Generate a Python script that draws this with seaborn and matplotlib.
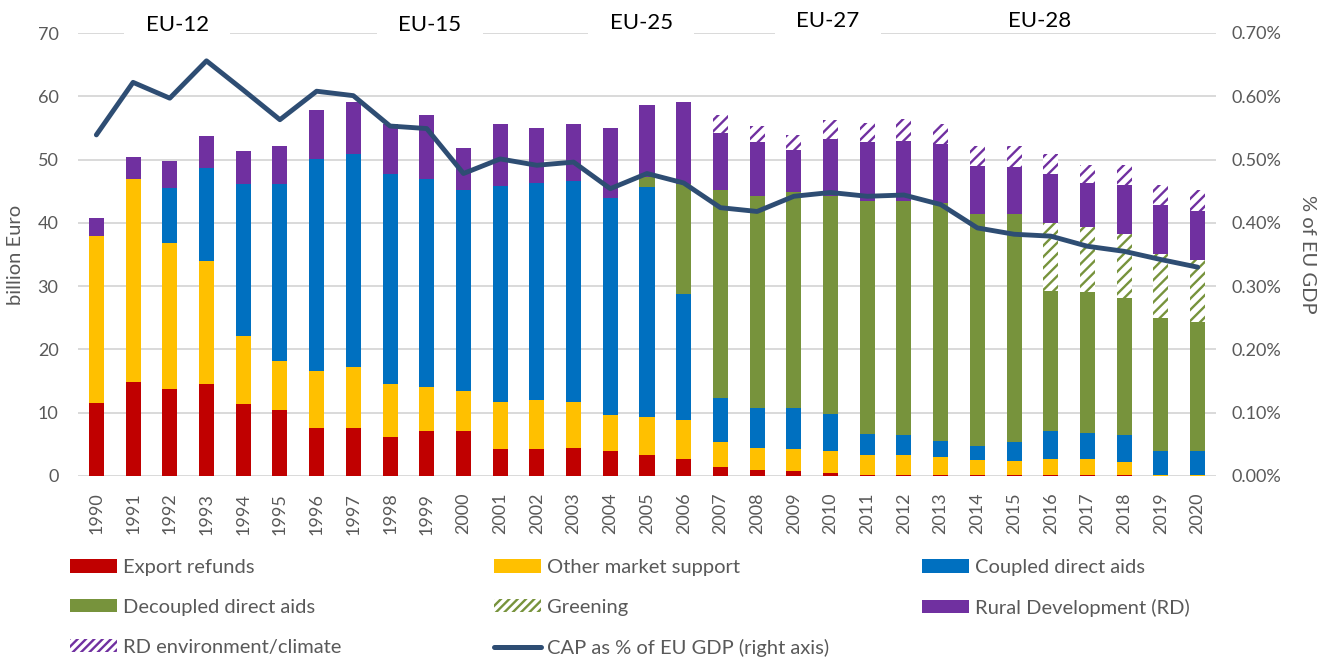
import numpy as np
import pandas as pd
import matplotlib
matplotlib.use("Agg")
import matplotlib.pyplot as plt
import seaborn as sns
from matplotlib.patches import Patch
from matplotlib.lines import Line2D
from matplotlib.ticker import FuncFormatter, MultipleLocator

# ---------------- data (billion Euro) ----------------
years = [str(y) for y in range(1990, 2021)]
export_refunds = [11.6, 14.8, 13.7, 14.5, 11.4, 10.5, 7.6, 7.6, 6.2, 7.1, 7.1, 4.2, 4.2, 4.4, 3.9,
                  3.3, 2.7, 1.5, 1.0, 0.8, 0.5, 0.1, 0.1, 0.1, 0.1, 0.1, 0.1, 0.1, 0.1, 0.0, 0.0]
other_market = [26.3, 32.1, 23.1, 19.4, 10.7, 7.6, 9.0, 9.6, 8.4, 6.9, 6.3, 7.5, 7.8, 7.3, 5.8,
                6.1, 6.1, 3.8, 3.5, 3.4, 3.4, 3.2, 3.2, 2.9, 2.4, 2.3, 2.6, 2.6, 2.1, 0.1, 0.1]
coupled = [0.0, 0.0, 8.7, 14.8, 24.0, 28.0, 33.5, 33.7, 33.1, 32.9, 31.8, 34.1, 34.3, 34.9, 34.3,
           36.3, 19.9, 7.1, 6.2, 6.5, 5.9, 3.4, 3.1, 2.6, 2.2, 2.9, 4.4, 4.1, 4.3, 3.8, 3.8]
decoupled = [0.0, 0.0, 0.0, 0.0, 0.0, 0.0, 0.0, 0.0, 0.0, 0.0, 0.0, 0.0, 0.0, 0.0, 0.0,
             1.5, 17.5, 32.8, 33.6, 34.2, 34.5, 36.8, 37.1, 37.6, 36.7, 36.1, 22.2, 22.2, 21.6, 21.0, 20.5]
greening = [0.0] * 26 + [10.6, 10.4, 10.1, 10.2, 9.8]
rural_dev = [2.9, 3.5, 4.3, 5.1, 5.2, 6.0, 7.8, 8.2, 7.9, 10.2, 6.6, 9.8, 8.7, 9.0, 11.0,
             11.5, 12.9, 9.0, 8.4, 6.6, 8.9, 9.2, 9.4, 9.2, 7.6, 7.5, 7.8, 6.9, 7.8, 7.7, 7.7]
rd_env = [0.0] * 17 + [2.9, 2.6, 2.4, 3.0, 3.1, 3.5, 3.2, 3.1, 3.2, 3.2, 2.9, 3.2, 3.2, 3.3]
# CAP as % of EU GDP (right axis)
cap_gdp_pct = [0.539, 0.622, 0.597, 0.656, 0.610, 0.563, 0.608, 0.601, 0.553, 0.549, 0.478,
               0.501, 0.491, 0.496, 0.454, 0.478, 0.463, 0.424, 0.418, 0.442, 0.448, 0.442,
               0.444, 0.429, 0.392, 0.382, 0.379, 0.363, 0.355, 0.342, 0.330]
period_labels = ["EU-12", "EU-15", "EU-25", "EU-27", "EU-28"]
period_pos = [2.2, 9.09, 14.84, 19.93, 25.7]

series_names = ["Export refunds", "Other market support", "Coupled direct aids",
                "Decoupled direct aids", "Greening", "Rural Development (RD)",
                "RD environment/climate"]
line_name = "CAP as % of EU GDP (right axis)"

# ---------------- style ----------------
sns.set_style("white")
plt.rcParams['font.family'] = ['Lato', 'DejaVu Sans']
plt.rcParams['hatch.linewidth'] = 1.7

RED, YEL, BLU, GRN, PUR = "#C00000", "#FFC000", "#0070C0", "#77933C", "#7030A0"
LINE_C = "#2E4D73"
TXT = "#595959"
GRID = "#D9D9D9"

W, H = 1323, 659
fig = plt.figure(figsize=(W / 100, H / 100), dpi=100)
left, right, top, bottom = 78, 1216, 33, 476
ax = fig.add_axes([left / W, 1 - bottom / H, (right - left) / W, (bottom - top) / H])

layers = [
    (export_refunds, RED, None),
    (other_market, YEL, None),
    (coupled, BLU, None),
    (decoupled, GRN, None),
    (greening, GRN, "///"),
    (rural_dev, PUR, None),
    (rd_env, PUR, "///"),
]
cum = np.zeros(len(years))
tops = []
for vals, c, h in layers:
    cum = cum + np.array(vals, dtype=float)
    tops.append(cum.copy())

for (vals, c, h), tp in reversed(list(zip(layers, tops))):
    d = pd.DataFrame({"year": years, "top": tp})
    if h:
        sns.barplot(data=d, x="year", y="top", color="white", saturation=1, width=0.41,
                    edgecolor=c, linewidth=0, hatch=h, errorbar=None, ax=ax)
    else:
        sns.barplot(data=d, x="year", y="top", color=c, saturation=1, width=0.41,
                    linewidth=0, errorbar=None, ax=ax)

ax.set_ylim(0, 70)
ax.yaxis.set_major_locator(MultipleLocator(10))
ax.set_axisbelow(True)
ax.grid(axis="y", color=GRID, linewidth=1.4)
ax.grid(axis="x", visible=False)
for s in ax.spines.values():
    s.set_visible(False)
ax.tick_params(axis="both", length=0, labelsize=13, labelcolor=TXT)
ax.tick_params(axis="y", pad=14)
ax.tick_params(axis="x", pad=12, labelrotation=90)
ax.set_xlabel("")
ax.set_ylabel("billion Euro", fontsize=14.5, color=TXT)
ax.yaxis.set_label_coords((24 - left) / (right - left), 0.5)

# period labels on top gridline
for lab, pos in zip(period_labels, period_pos):
    ypx = 25 if lab in ("EU-12", "EU-15") else (23 if lab == "EU-25" else 21)
    yv = 70 + (top - ypx) / ((bottom - top) / 70)
    if lab == "EU-28":
        ax.text(pos, yv, lab, ha="center", va="center", fontsize=16, color="black", clip_on=False)
    else:
        ax.text(pos, yv, lab, ha="center", va="center", fontsize=16, color="black", clip_on=False,
                bbox=dict(boxstyle="square,pad=0.95", facecolor="white", edgecolor="none"))

# line on right axis
ax2 = ax.twinx()
sns.lineplot(x=np.arange(len(years)), y=cap_gdp_pct, ax=ax2, color=LINE_C, linewidth=3.5,
             solid_capstyle="round", solid_joinstyle="round")
ax2.set_ylim(0, 0.7)
ax2.yaxis.set_major_locator(MultipleLocator(0.1))
ax2.yaxis.set_major_formatter(FuncFormatter(lambda v, p: f"{v:.2f}%"))
for s in ax2.spines.values():
    s.set_visible(False)
ax2.tick_params(axis="y", length=0, labelsize=13, labelcolor=TXT, pad=11)
ax2.set_ylabel("% of EU GDP", fontsize=14.5, color=TXT, rotation=270, va="bottom")
ax2.yaxis.set_label_coords((1299 - left) / (right - left), 0.5)
ax.set_xlim(-0.5, len(years) - 0.5)
ax2.set_xlim(-0.5, len(years) - 0.5)

# legend (3 columns, row-wise order)
def sp(c):
    return Patch(facecolor=c, edgecolor="none")

def hp(c):
    return Patch(facecolor="white", edgecolor=c, hatch="////", linewidth=0)

cols = [
    ([sp(RED), sp(GRN), hp(PUR)], [series_names[0], series_names[3], series_names[6]]),
    ([sp(YEL), hp(GRN), Line2D([0], [0], color=LINE_C, lw=3.6, solid_capstyle="round")],
     [series_names[1], series_names[4], line_name]),
    ([sp(BLU), sp(PUR)], [series_names[2], series_names[5]]),
]
xs = [70, 494, 922]
for (hs, ls), x in zip(cols, xs):
    lg = fig.legend(hs, ls, loc="upper left", bbox_to_anchor=(x / W, 1 - 559 / H),
                    frameon=False, borderpad=0, borderaxespad=0, handlelength=2.33,
                    handleheight=0.65, handletextpad=0.3, labelspacing=1.13, fontsize=14.5)
    for t in lg.get_texts():
        t.set_color(TXT)

fig.savefig("out.png", dpi=100)
